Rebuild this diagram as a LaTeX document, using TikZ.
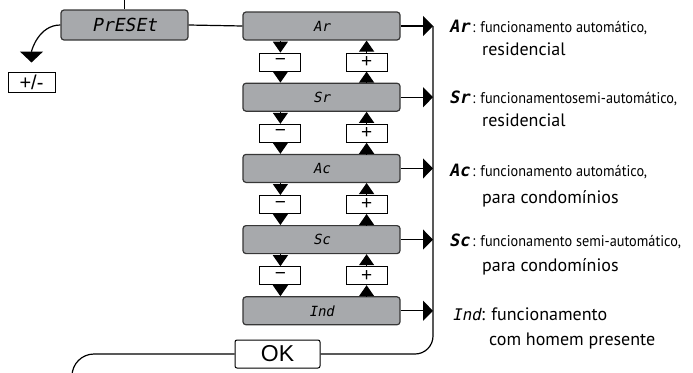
\documentclass[tikz,border=0pt]{standalone}
\usepackage{fontspec}
\setmainfont{Liberation Sans}
\newfontfamily\segfont[FakeSlant=0.2]{DejaVu Sans Mono}
\newfontfamily\descfont{PT Sans}
\newfontfamily\narrowfont[FakeStretch=0.92]{PT Sans}
\usetikzlibrary{positioning, calc, arrows.meta}
\definecolor{lcdgray}{RGB}{167,169,172}
\definecolor{framegray}{RGB}{55,55,55}
\newcommand{\lcd}[1]{{\segfont\bfseries\fontsize{17}{17}\selectfont #1}}
\newcommand{\narrowtxt}[1]{{\narrowfont\fontsize{15.5}{15.5}\selectfont #1}}

\begin{document}
\begin{tikzpicture}[x=1pt, y=1pt,
    node distance=42pt,
    display/.style={rectangle, rounded corners=3pt, draw=framegray, fill=lcdgray, line width=1.2pt, minimum width=157pt, minimum height=28pt, inner sep=0pt, font={\segfont\fontsize{14}{14}\selectfont}},
    key/.style={rectangle, draw, line width=1pt, fill=white, minimum width=41pt, minimum height=18pt, inner sep=0pt, font={\fontsize{19}{19}\selectfont}},
    desc/.style={anchor=north west, align=left, inner sep=0pt, font={\descfont\fontsize{18}{23}\selectfont}},
    wire/.style={line width=1.2pt},
    keyarrow/.style={wire, -{Triangle[width=15pt, length=11pt]}},
    outarrow/.style={wire, -{Triangle[width=20pt, length=10pt]}}
]
\useasboundingbox (0,0) rectangle (693,-372);

% menu entry and sign key
\node[display, minimum width=127pt, minimum height=30pt, font={\segfont\fontsize{18}{18}\selectfont}] (preset) at (124.5,-25) {PrESEt};
\node[key, minimum width=47pt, minimum height=20pt, font={\fontsize{20}{20}\selectfont}] (pm) at (31.5,-82) {+/-};
\coordinate (in) at (124.5,0);

% options, one below the other
\node[display] (ar) at (321.5,-26) {Ar};
\node[display, below=of ar] (sr) {Sr};
\node[display, below=of sr] (ac) {Ac};
\node[display, below=of ac] (sc) {Sc};
\node[display, below=of sc] (ind) {Ind};

% minus / plus keys between the options
\node[key, below right=12pt and 17pt of ar.south west] (m1) {−};
\node[key, below left=12pt and 13pt of ar.south east] (p1) {+};
\node[key, below right=12pt and 17pt of sr.south west] (m2) {−};
\node[key, below left=12pt and 13pt of sr.south east] (p2) {+};
\node[key, below right=12pt and 17pt of ac.south west] (m3) {−};
\node[key, below left=12pt and 13pt of ac.south east] (p3) {+};
\node[key, below right=12pt and 17pt of sc.south west] (m4) {−};
\node[key, below left=12pt and 13pt of sc.south east] (p4) {+};

\node[key, rounded corners=2pt, minimum width=85pt, minimum height=28pt, font={\fontsize{23}{23}\selectfont}] (ok) at (277.5,-354) {OK};

\coordinate (bt) at (433,-26);
\coordinate (lb) at (72,-390);

% descriptions
\node[desc] (dar) at (449,-19.5) {\lcd{Ar}\narrowtxt{\,: funcionamento automático,}\\\hspace*{33pt}residencial};
\node[desc] (dsr) at (449,-90.5) {\lcd{Sr}\narrowtxt{\,: funcionamentosemi-automático,}\\\hspace*{33pt}residencial};
\node[desc] (dac) at (449,-163.5) {\lcd{Ac}\narrowtxt{\,: funcionamento automático,}\\[4pt]\hspace*{33pt}para condomínios};
\node[desc] (dsc) at (449,-233.5) {\lcd{Sc}\narrowtxt{\,: funcionamento semi-automático,}\\[2pt]\hspace*{33pt}para condomínios};
\node[desc] (dind) at (452,-307.5) {{\segfont\fontsize{16}{16}\selectfont Ind}: funcionamento\\[2pt]\hspace*{37pt}com homem presente};

% connections
\draw[wire] (in) -- (preset.north);
\draw[wire] (preset.east) -- (ar.west);
\draw[wire, -{Triangle[width=23pt, length=11pt]}, shorten >=9pt] (preset.west) to[out=180, in=90] (pm.north);

\draw[keyarrow] (ar.south -| m1) -- (m1.north);
\draw[keyarrow] (m1.south) -- (m1 |- sr.north);
\draw[keyarrow] (p1 |- sr.north) -- (p1.south);
\draw[keyarrow] (p1.north) -- (p1 |- ar.south);
\draw[keyarrow] (sr.south -| m2) -- (m2.north);
\draw[keyarrow] (m2.south) -- (m2 |- ac.north);
\draw[keyarrow] (p2 |- ac.north) -- (p2.south);
\draw[keyarrow] (p2.north) -- (p2 |- sr.south);
\draw[keyarrow] (ac.south -| m3) -- (m3.north);
\draw[keyarrow] (m3.south) -- (m3 |- sc.north);
\draw[keyarrow] (p3 |- sc.north) -- (p3.south);
\draw[keyarrow] (p3.north) -- (p3 |- ac.south);
\draw[keyarrow] (sc.south -| m4) -- (m4.north);
\draw[keyarrow] (m4.south) -- (m4 |- ind.north);
\draw[keyarrow] (p4 |- ind.north) -- (p4.south);
\draw[keyarrow] (p4.north) -- (p4 |- sc.south);

\draw[outarrow] (ar.east) -- (ar.east -| bt);
\draw[outarrow] (sr.east) -- (sr.east -| bt);
\draw[outarrow] (ac.east) -- (ac.east -| bt);
\draw[outarrow] (sc.east) -- (sc.east -| bt);
\draw[outarrow] (ind.east) -- (ind.east -| bt);

% confirm and return
\draw[wire, rounded corners=18pt] (bt) |- (ok.east);
\draw[wire, rounded corners=22pt] (ok.west) -| (lb);
\end{tikzpicture}
\end{document}
